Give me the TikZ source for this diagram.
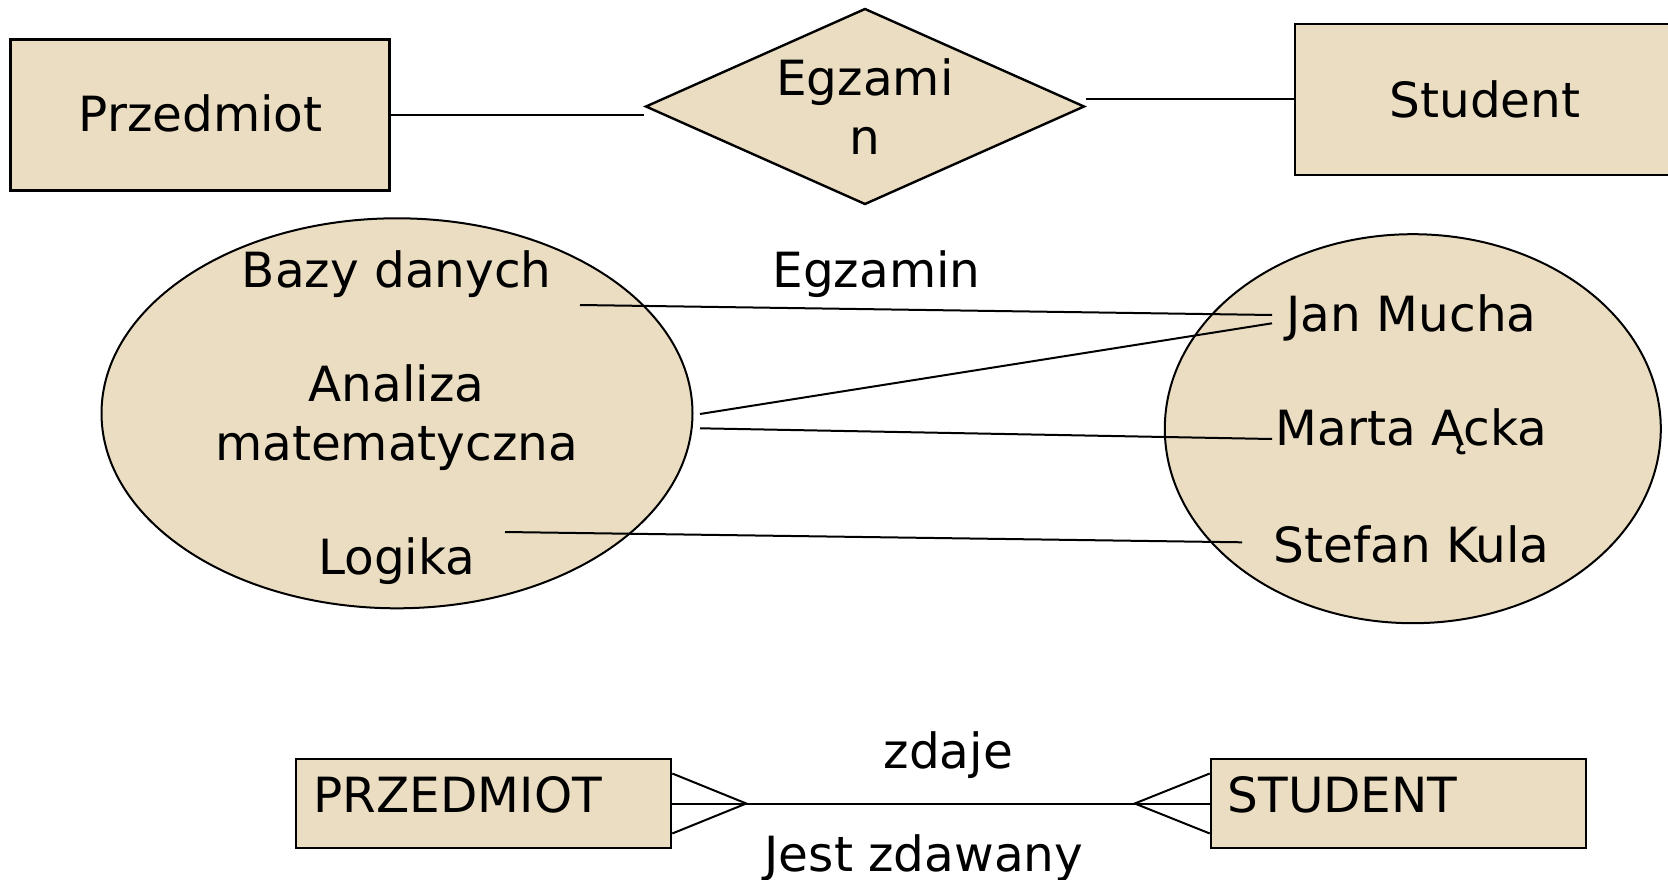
\documentclass[tikz,border=0pt]{standalone}
\usepackage{fontspec}
\setmainfont{DejaVu Sans}
\usetikzlibrary{shapes.geometric,calc}
\definecolor{entityfill}{RGB}{234,221,194}
\tikzset{
  entity/.style={draw, line width=2.6pt, fill=entityfill, inner sep=0pt},
  relation/.style={diamond, draw, line width=2.4pt, fill=entityfill, inner sep=0pt},
  valueset/.style={ellipse, draw, line width=2pt, fill=entityfill, inner sep=0pt},
  txt/.style={font=\fontsize{48.5}{58.5}\selectfont, inner sep=0pt, anchor=base},
  link/.style={line width=2pt},
}
\begin{document}
\begin{tikzpicture}[x=1pt,y=-1pt]
\useasboundingbox (0,0) rectangle (1668,880);

% Chen notation: entity -- relationship -- entity
\node[entity, minimum width=379pt, minimum height=151pt] (przedmiot) at (200,115) {};
\node[entity, minimum width=380pt, minimum height=151pt] (student) at (1485,99.5) {};
\node[relation, minimum width=439pt, minimum height=196pt] (egzamin) at (865,106.5) {};
\node[txt] (tprzedmiot) at (200.6,131.7) {Przedmiot};
\node[txt] (tstudent) at (1485,117.3) {Student};
% multi-line nodes: the base anchor sits on the last line
\node[txt, align=center] (tegzamin) at (865,154) {Egzami\\n};
\draw[link] (przedmiot.east) -- (przedmiot.east -| egzamin.west);
\draw[link] (student.west) -- (student.west -| egzamin.east);

% instances: subjects and students
\node[valueset, minimum width=591pt, minimum height=390pt] (subjects) at (397,413.3) {};
\node[valueset, minimum width=496pt, minimum height=389pt] (students) at (1412.8,428.7) {};
\node[txt] (bazy) at (396.7,287.3) {Bazy danych};
\node[txt, align=center] (analiza) at (396.7,460) {Analiza\\matematyczna};
\node[txt] (logika) at (396.7,574.5) {Logika};
\node[txt] (relname) at (876.5,287.3) {Egzamin};
\node[txt] (jan) at (1411.6,331.7) {Jan Mucha};
\node[txt] (marta) at (1411.6,445.7) {Marta Ącka};
\node[txt] (stefan) at (1411.6,562.3) {Stefan Kula};

\coordinate (b1) at (580,305);
\coordinate (a1) at (700,414);
\coordinate (a2) at (700,428.3);
\coordinate (l1) at (505,532);
\coordinate (j1) at (1272,315);
\coordinate (j2) at (1272,323.3);
\coordinate (m1) at (1272,439);
\coordinate (s1) at (1242,542.3);
\draw[link] (b1) -- (j1);
\draw[link] (a1) -- (j2);
\draw[link] (a2) -- (m1);
\draw[link] (l1) -- (s1);

% crow's foot notation
\node[entity, minimum width=375pt, minimum height=89pt] (P) at (483.5,803.5) {};
\node[entity, minimum width=375pt, minimum height=89pt] (S) at (1398.5,803.5) {};
\node[txt, anchor=base west] (tP) at (313.5,812.7) {PRZEDMIOT};
\node[txt, anchor=base west] (tS) at (1227.5,812.7) {STUDENT};
\node[txt] (zdaje) at (948.3,768.3) {zdaje};
\node[txt] (jest) at (924,871.7) {Jest zdawany};

\coordinate (pcrow) at ($(P.east)+(74,0)$);
\coordinate (scrow) at ($(S.west)+(-75,0)$);
\draw[link] ($(P.east)+(0,-30)$) -- (pcrow) -- ($(P.east)+(0,30)$);
\draw[link] (P.east) -- (pcrow) -- (scrow);
\draw[link] ($(S.west)+(0,-30)$) -- (scrow) -- ($(S.west)+(0,30)$);
\draw[link] (scrow) -- (S.west);
\end{tikzpicture}
\end{document}
